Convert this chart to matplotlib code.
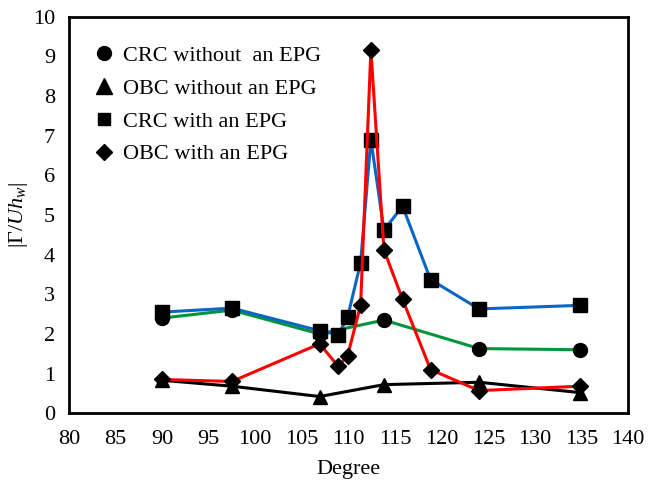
import matplotlib
matplotlib.use("Agg")
import matplotlib.pyplot as plt
from matplotlib.lines import Line2D

plt.rcParams["font.family"] = "Liberation Serif"
plt.rcParams["mathtext.fontset"] = "custom"
plt.rcParams["mathtext.rm"] = "Liberation Serif"
plt.rcParams["mathtext.it"] = "Liberation Serif:italic"

# Ángulos (grados) y circulación adimensional |Γ/U h_w|
grados_sin = [90, 97.5, 106.9, 113.8, 124, 134.8]
crc_sin = [2.4, 2.6, 2.0, 2.35, 1.63, 1.6]
obc_sin = [0.83, 0.68, 0.42, 0.72, 0.78, 0.52]

grados_con = [90, 97.5, 106.9, 108.9, 109.9, 111.3, 112.4, 113.8, 115.8, 118.8, 124, 134.8]
crc_con = [2.55, 2.65, 2.08, 1.98, 2.42, 3.8, 6.9, 4.62, 5.22, 3.37, 2.63, 2.72]
obc_con = [0.85, 0.8, 1.75, 1.18, 1.45, 2.73, 9.17, 4.12, 2.87, 1.1, 0.57, 0.68]

etiquetas = ["CRC without  an EPG", "OBC without an EPG", "CRC with an EPG", "OBC with an EPG"]

fig = plt.figure(figsize=(6.49, 4.96), dpi=100)
ax = fig.add_axes([0.106, 0.167, 0.862, 0.799])

ax.plot(grados_sin, crc_sin, color="#00953a", lw=2.2, marker="o", ms=10,
        mfc="black", mec="black", zorder=3)
ax.plot(grados_sin, obc_sin, color="black", lw=2.2, marker="^", ms=10,
        mfc="black", mec="black", zorder=3)
ax.plot(grados_con, crc_con, color="#0a66c2", lw=2.2, marker="s", ms=9.5,
        mfc="black", mec="black", zorder=4)
ax.plot(grados_con, obc_con, color="#ff0000", lw=2.2, marker="D", ms=8,
        mfc="black", mec="black", zorder=5)

ax.set_xlim(80, 140)
ax.set_ylim(0, 10)
ax.set_xticks(range(80, 141, 5))
ax.set_yticks(range(0, 11, 1))
ax.tick_params(length=0, labelsize=16)
ax.tick_params(axis="x", pad=12)
ax.tick_params(axis="y", pad=10)
for lado in ax.spines.values():
    lado.set_linewidth(2)

ax.set_xlabel("Degree", fontsize=16, labelpad=8)
ax.set_ylabel(r"$|\mathit{\Gamma}/Uh_w|$", fontsize=16, labelpad=2)

# Leyenda solo con los marcadores
marcadores = [
    Line2D([], [], ls="none", marker="o", ms=10, color="black"),
    Line2D([], [], ls="none", marker="^", ms=12, color="black"),
    Line2D([], [], ls="none", marker="s", ms=9, color="black"),
    Line2D([], [], ls="none", marker="D", ms=8, color="black"),
]
ax.legend(marcadores, etiquetas, loc="upper left", bbox_to_anchor=(0.018, 0.967),
          frameon=False, fontsize=16, handlelength=0.9, handletextpad=0.4,
          labelspacing=0.55, borderaxespad=0.3)

fig.savefig("out.png", dpi=100)
